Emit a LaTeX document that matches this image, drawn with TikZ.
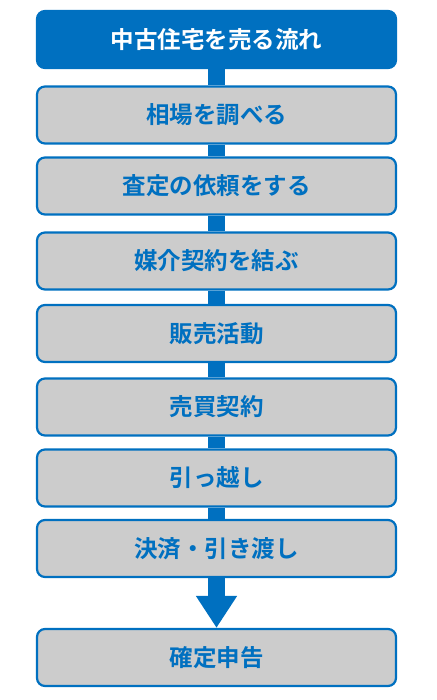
\documentclass[tikz,border=0pt]{standalone}
\usepackage{fontspec}
\usepackage{tikz}
\usetikzlibrary{arrows.meta}
\usetikzlibrary{shapes}
\newfontfamily\jpfont{Noto Sans CJK JP Bold}
\definecolor{mainblue}{HTML}{0070C0}
\definecolor{boxgray}{HTML}{CCCCCC}

\begin{document}
\begin{tikzpicture}[x=1pt,y=-1pt]
        \tikzset{stagebox/.style = {shape=rectangle,rounded corners=8pt,draw=mainblue,line width=2.2pt,fill=boxgray,
                 text=mainblue,minimum width=359pt,minimum height=57pt,inner sep=0pt,
                 font=\jpfont\fontsize{23.5pt}{28pt}\selectfont}}
        \tikzset{headbox/.style = {stagebox,fill=mainblue,text=white}}
        \tikzset{link/.style = {draw=mainblue,line width=17pt}}
        \useasboundingbox (0,0) rectangle (436,700);
        % stages
        \node[headbox] (title) at (216.5,39.5) {中古住宅を売る流れ};
        \node[stagebox] (souba) at (216.5,115) {相場を調べる};
        \node[stagebox] (satei) at (216.5,186) {査定の依頼をする};
        \node[stagebox] (baikai) at (216.5,261) {媒介契約を結ぶ};
        \node[stagebox] (hanbai) at (216.5,333.5) {販売活動};
        \node[stagebox] (baibai) at (216.5,407) {売買契約};
        \node[stagebox] (hikkoshi) at (216.5,478) {引っ越し};
        \node[stagebox] (kessai) at (216.5,548.5) {決済・引き渡し};
        \node[stagebox] (kakutei) at (216.5,657.5) {確定申告};
        %links
        \draw[link] (title) -- (souba);
        \draw[link] (souba) -- (satei);
        \draw[link] (satei) -- (baikai);
        \draw[link] (baikai) -- (hanbai);
        \draw[link] (hanbai) -- (baibai);
        \draw[link] (baibai) -- (hikkoshi);
        \draw[link] (hikkoshi) -- (kessai);
        \draw[link, -{Triangle[width=39pt 0,length=32pt 0]}] (kessai) -- (kakutei);
    \end{tikzpicture}
\end{document}
